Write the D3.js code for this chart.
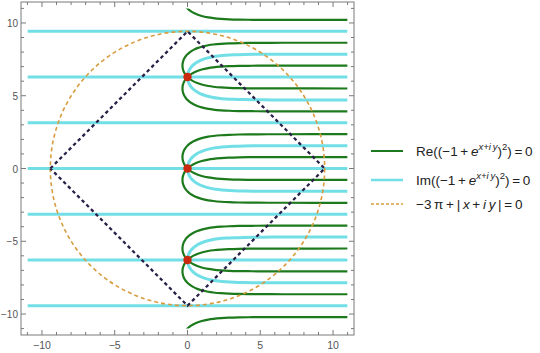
<!DOCTYPE html>
<html><head><meta charset="utf-8">
<script src="https://cdn.jsdelivr.net/npm/d3@7"></script>
<style>
body{margin:0;background:#fff;}
svg{display:block;font-family:"Liberation Sans",Arial,sans-serif;}
</style></head>
<body><svg id="c" width="540" height="353"></svg>
<script>
// ---- data ----
const xDomain = [-11.44, 11.44];
const yDomain = [-11.44, 11.44];
const contourBox = [-11, 11];
const majorTicks = [-10, -5, 0, 5, 10];
const minorTicks = [-11,-9,-8,-7,-6,-4,-3,-2,-1,1,2,3,4,6,7,8,9,11];
// green C-curve half shape: [x, vertical offset from curve center]
const greenShape = [[-0.347,0],[-0.339,0.1],[-0.327,0.2],[-0.299,0.3],[-0.264,0.4],[-0.215,0.5],[-0.155,0.6],[-0.083,0.7],[0,0.785],[0.129,0.9],[0.269,1.0],[0.444,1.1],[0.669,1.2],[0.972,1.3],[1.426,1.4],[1.770,1.45],[2.303,1.5],[2.852,1.53],[3.526,1.55],[4.18,1.56],[4.80,1.565],[5.53,1.568],[6.56,1.5698],[11,1.5708]];
const greenCenters = [-11.781, -7.069, -5.498, -0.785, 0.785, 5.498, 7.069, 11.781];
// cyan C-curve half shape
const cyanShape = [[0,0],[0.005,0.1],[0.020,0.2],[0.046,0.3],[0.082,0.4],[0.130,0.5],[0.192,0.6],[0.268,0.7],[0.361,0.8],[0.475,0.9],[0.616,1.0],[0.791,1.1],[1.015,1.2],[1.319,1.3],[1.772,1.4],[2.116,1.45],[2.649,1.5],[3.199,1.53],[3.873,1.55],[4.528,1.56],[5.15,1.565],[5.88,1.568],[6.91,1.5698],[11,1.5708]];
const cyanCenters = [-6.283, 0, 6.283];
const cyanLevels = [-9.425, -6.283, -3.142, 0, 3.142, 6.283, 9.425];
const circleRadius = 9.425;
const diamond = [[-9.425,0],[0,9.425],[9.425,0],[0,-9.425],[-9.425,0]];
const redPoints = [[0,-6.283],[0,0],[0,6.283]];

// ---- drawing ----
const svg = d3.select("#c");
const L = 21, R = 354, T = 2, B = 335;
const x = d3.scaleLinear().domain(xDomain).range([L, R]);
const y = d3.scaleLinear().domain(yDomain).range([B, T]);

const defs = svg.append("defs");
defs.append("clipPath").attr("id","clipC").append("rect")
  .attr("x", x(contourBox[0])).attr("y", y(contourBox[1]))
  .attr("width", x(contourBox[1]) - x(contourBox[0]))
  .attr("height", y(contourBox[0]) - y(contourBox[1]));

const line = d3.line().x(d => x(d[0])).y(d => y(d[1])).curve(d3.curveCatmullRom);
function cShape(shape, c){
  const lower = shape.slice().reverse().map(p => [p[0], c - p[1]]);
  const upper = shape.slice(1).map(p => [p[0], c + p[1]]);
  return lower.concat(upper);
}

const g = svg.append("g").attr("clip-path","url(#clipC)");
const cyanCol = "#72dfe6", greenCol = "#1c7a1c";

g.selectAll(".cl").data(cyanLevels).join("line")
  .attr("x1", x(contourBox[0])).attr("x2", x(contourBox[1]))
  .attr("y1", d => y(d)).attr("y2", d => y(d))
  .attr("stroke", cyanCol).attr("stroke-width", 3);
g.selectAll(".cc").data(cyanCenters).join("path")
  .attr("d", c => line(cShape(cyanShape, c)))
  .attr("fill","none").attr("stroke", cyanCol).attr("stroke-width", 3);
g.selectAll(".gc").data(greenCenters).join("path")
  .attr("d", c => line(cShape(greenShape, c)))
  .attr("fill","none").attr("stroke", greenCol).attr("stroke-width", 2.2);

g.append("circle").attr("cx", x(0)).attr("cy", y(0))
  .attr("r", x(circleRadius) - x(0))
  .attr("fill","none").attr("stroke","#d89c40").attr("stroke-width",1.6)
  .attr("stroke-dasharray","4,3");
g.append("path").attr("d", d3.line().x(d=>x(d[0])).y(d=>y(d[1]))(diamond))
  .attr("fill","none").attr("stroke","#2a2048").attr("stroke-width",2.3)
  .attr("stroke-dasharray","3.5,3");
g.selectAll(".rp").data(redPoints).join("circle")
  .attr("cx", d => x(d[0])).attr("cy", d => y(d[1])).attr("r", 4.2)
  .attr("fill","#cc2a10");

// frame
svg.append("rect").attr("x",L).attr("y",T).attr("width",R-L).attr("height",B-T)
  .attr("fill","none").attr("stroke","#7a7a7a").attr("stroke-width",1);
const tickCol = "#7a7a7a";
function ticks(vals, len){
  vals.forEach(v => {
    svg.append("line").attr("x1",x(v)).attr("x2",x(v)).attr("y1",B).attr("y2",B-len).attr("stroke",tickCol);
    svg.append("line").attr("x1",x(v)).attr("x2",x(v)).attr("y1",T).attr("y2",T+len).attr("stroke",tickCol);
    svg.append("line").attr("y1",y(v)).attr("y2",y(v)).attr("x1",L).attr("x2",L+len).attr("stroke",tickCol);
    svg.append("line").attr("y1",y(v)).attr("y2",y(v)).attr("x1",R).attr("x2",R-len).attr("stroke",tickCol);
  });
}
ticks(majorTicks, 5);
ticks(minorTicks, 3);
const fmt = v => (v < 0 ? "\u2212" : "") + Math.abs(v);
svg.selectAll(".xl").data(majorTicks).join("text")
  .attr("x", d => x(d)).attr("y", 349).attr("text-anchor","middle")
  .attr("font-size",10.5).attr("fill","#555").text(fmt);
svg.selectAll(".yl").data(majorTicks).join("text")
  .attr("x", 18).attr("y", d => y(d) + 4).attr("text-anchor","end")
  .attr("font-size",10).attr("fill","#555").text(fmt);

// legend
const lg = svg.append("g");
const lx1 = 371, lx2 = 403, tx = 416;
const ly = [151, 180, 204];
lg.append("line").attr("x1",lx1).attr("x2",lx2).attr("y1",ly[0]).attr("y2",ly[0]).attr("stroke",greenCol).attr("stroke-width",2);
lg.append("line").attr("x1",lx1).attr("x2",lx2).attr("y1",ly[1]).attr("y2",ly[1]).attr("stroke",cyanCol).attr("stroke-width",2.5);
lg.append("line").attr("x1",lx1).attr("x2",lx2).attr("y1",ly[2]).attr("y2",ly[2]).attr("stroke","#d89c40").attr("stroke-width",1.5).attr("stroke-dasharray","3,2");

function eqText(yb, head){
  const t = lg.append("text").attr("x",tx).attr("y",yb).attr("font-size",13.5).attr("fill","#222");
  t.append("tspan").text(head + "((\u22121\u2009+\u2009");
  t.append("tspan").attr("font-style","italic").text("e");
  t.append("tspan").attr("dy",-6).attr("font-size",9.5).attr("font-style","italic").text("x+i\u2009y");
  t.append("tspan").attr("dy",6).text(")");
  t.append("tspan").attr("dy",-6).attr("font-size",9.5).text("2");
  t.append("tspan").attr("dy",6).text(")\u2009=\u20090");
}
eqText(ly[0]+5, "Re");
eqText(ly[1]+5, "Im");
const t3 = lg.append("text").attr("x",tx).attr("y",ly[2]+5).attr("font-size",13.5).attr("fill","#222");
t3.append("tspan").text("\u22123\u2009\u03c0\u2009+\u2009|\u2009");
t3.append("tspan").attr("font-style","italic").text("x");
t3.append("tspan").text("\u2009+\u2009");
t3.append("tspan").attr("font-style","italic").text("i\u2009y");
t3.append("tspan").text("\u2009|\u2009=\u20090");
</script>
</body></html>
